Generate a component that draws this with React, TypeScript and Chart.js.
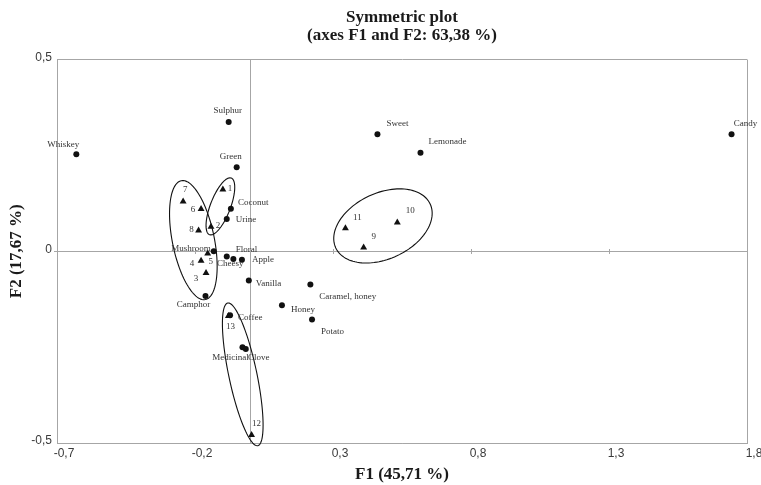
import React, { useEffect, useRef } from 'react';
import { Chart, registerables } from 'chart.js';

Chart.register(...registerables);

// ---- data ----
const chartTitle = ['Symmetric plot', '(axes F1 and F2: 63,38 %)'];
const xAxisTitle = 'F1 (45,71 %)';
const yAxisTitle = 'F2 (17,67 %)';

const xTickValues = [-0.7, -0.2, 0.3, 0.8, 1.3, 1.8];
const yTickValues = [-0.5, 0, 0.5];

const attributeNames = [
  'Whiskey', 'Sulphur', 'Green', 'Sweet', 'Lemonade', 'Candy', 'Coconut', 'Urine',
  'Mushroom', 'Floral', 'Cheesy', 'Apple', 'Vanilla', 'Caramel, honey', 'Camphor',
  'Honey', 'Potato', 'Coffee', 'Medicinal', 'Clove',
];
const attributeF1 = [
  -0.630, -0.078, -0.049, 0.461, 0.617, 1.744, -0.070, -0.085,
  -0.132, -0.085, -0.061, -0.030, -0.005, 0.218, -0.162,
  0.115, 0.224, -0.073, -0.028, -0.016,
];
const attributeF2 = [
  0.253, 0.337, 0.219, 0.305, 0.257, 0.305, 0.111, 0.084,
  0.000, -0.014, -0.020, -0.022, -0.076, -0.087, -0.117,
  -0.141, -0.178, -0.167, -0.250, -0.255,
];

const sampleNames = ['1', '2', '3', '4', '5', '6', '7', '8', '9', '10', '11', '12', '13'];
const sampleF1 = [-0.099, -0.142, -0.160, -0.178, -0.154, -0.178, -0.243, -0.187, 0.411, 0.533, 0.345, 0.005, -0.079];
const sampleF2 = [0.161, 0.064, -0.057, -0.025, -0.006, 0.110, 0.130, 0.054, 0.010, 0.075, 0.060, -0.479, -0.169];

// confidence ellipses (data units): centre and two conjugate semi-axis vectors
const ellipseCenters = [[-0.206, 0.029], [-0.108, 0.117], [0.481, 0.066], [-0.027, -0.321]];
const ellipseAxisU = [[0.0435, -0.155], [0.0394, 0.0738], [0.171, 0.0573], [0.0544, -0.186]];
const ellipseAxisV = [[0.0745, 0.0108], [0.0339, -0.0093], [0.0506, -0.0779], [0.0497, 0.0075]];

// ---- label layout (pixel offsets from the marker) ----
const attributeLabelLayout: [number, number, CanvasTextAlign][] = [
  [-13, -10, 'center'], [-1, -11, 'center'], [-6, -11, 'center'], [20, -11, 'center'],
  [27, -11, 'center'], [14, -11, 'center'], [7, -6, 'left'], [9, 1, 'left'],
  [-3, -3, 'right'], [9, -7, 'left'], [-3, 5, 'center'], [10, 0, 'left'],
  [7, 3, 'left'], [9, 12, 'left'], [-12, 9, 'center'], [9, 4, 'left'],
  [9, 12, 'left'], [8, 2, 'left'], [-12, 11, 'center'], [13, 9, 'center'],
];
const sampleLabelLayout: [number, number][] = [
  [7, -1], [7, -1], [-10, 6], [-9, 3], [3, 8], [-8, 1], [2, -12], [-7, -1],
  [10, -11], [13, -12], [12, -11], [5, -11], [2, 11],
];

const GRAY = '#a6a6a6';
const SERIF = '"Liberation Serif", "Times New Roman", serif';
const SANS = '"Liberation Sans", Arial, sans-serif';

const fmt = (v: number) => (Math.abs(v) < 1e-9 ? '0' : v.toFixed(1).replace('.', ','));

const annotatePlugin = {
  id: 'annotate',
  beforeDatasetsDraw(chart: any) {
    const { ctx, chartArea, scales } = chart;
    const xs = scales.x, ys = scales.y;
    ctx.save();
    ctx.strokeStyle = GRAY;
    ctx.lineWidth = 1;
    const x0 = Math.round(xs.getPixelForValue(0)) + 0.5;
    ctx.beginPath();
    ctx.moveTo(x0, chartArea.top);
    ctx.lineTo(x0, chartArea.bottom);
    ctx.stroke();
    const y0 = Math.round(ys.getPixelForValue(0)) + 0.5;
    ctx.beginPath();
    for (const v of xTickValues.slice(1, -1)) {
      const px = Math.round(xs.getPixelForValue(v)) + 0.5;
      ctx.moveTo(px, y0 - 2.5);
      ctx.lineTo(px, y0 + 2.5);
    }
    ctx.moveTo(chartArea.left - 3, y0);
    ctx.lineTo(chartArea.left, y0);
    ctx.stroke();
    ctx.restore();
  },
  afterDatasetsDraw(chart: any) {
    const { ctx, scales } = chart;
    const xs = scales.x, ys = scales.y;
    ctx.save();
    // ellipses
    ctx.strokeStyle = '#111';
    ctx.lineWidth = 1.1;
    for (let e = 0; e < ellipseCenters.length; e++) {
      const [cx, cy] = ellipseCenters[e];
      const [ux, uy] = ellipseAxisU[e];
      const [vx, vy] = ellipseAxisV[e];
      ctx.beginPath();
      const N = 120;
      for (let i = 0; i <= N; i++) {
        const t = (i / N) * Math.PI * 2;
        const px = xs.getPixelForValue(cx + ux * Math.cos(t) + vx * Math.sin(t));
        const py = ys.getPixelForValue(cy + uy * Math.cos(t) + vy * Math.sin(t));
        if (i === 0) ctx.moveTo(px, py); else ctx.lineTo(px, py);
      }
      ctx.closePath();
      ctx.stroke();
    }
    // labels
    ctx.font = `9px ${SERIF}`;
    ctx.fillStyle = '#333';
    ctx.textBaseline = 'middle';
    attributeNames.forEach((name, i) => {
      const [dx, dy, align] = attributeLabelLayout[i];
      ctx.textAlign = align;
      ctx.fillText(name, xs.getPixelForValue(attributeF1[i]) + dx, ys.getPixelForValue(attributeF2[i]) + dy);
    });
    ctx.textAlign = 'center';
    sampleNames.forEach((name, i) => {
      const [dx, dy] = sampleLabelLayout[i];
      ctx.fillText(name, xs.getPixelForValue(sampleF1[i]) + dx, ys.getPixelForValue(sampleF2[i]) + dy);
    });
    ctx.restore();
  },
};

export default function App() {
  const ref = useRef<HTMLCanvasElement | null>(null);
  useEffect(() => {
    document.body.style.margin = '0';
    const canvas = ref.current;
    if (!canvas) return;
    const isEdge = (v: number, arr: number[]) => v === arr[0] || v === arr[arr.length - 1];
    const titleFont = { family: SERIF, size: 17, weight: 'bold', lineHeight: 18 / 17 };
    const chart = new Chart(canvas, {
      type: 'scatter',
      data: {
        datasets: [
          {
            label: 'Attributes',
            data: attributeF1.map((x, i) => ({ x, y: attributeF2[i] })),
            pointStyle: 'circle',
            pointRadius: 3,
            backgroundColor: '#111',
            borderColor: '#111',
            borderWidth: 0,
          },
          {
            label: 'Samples',
            data: sampleF1.map((x, i) => ({ x, y: sampleF2[i] })),
            pointStyle: 'triangle',
            pointRadius: 4,
            backgroundColor: '#111',
            borderColor: '#111',
            borderWidth: 0,
          },
        ],
      },
      options: {
        responsive: false,
        animation: false,
        devicePixelRatio: 1,
        layout: { padding: { left: 0, right: 14, top: 0, bottom: 0 } },
        plugins: {
          legend: { display: false },
          tooltip: { enabled: false },
          title: {
            display: true,
            text: chartTitle,
            fullSize: false,
            color: '#1a1a1a',
            font: titleFont,
            padding: { top: 9, bottom: 14.5 },
          },
        },
        scales: {
          x: {
            type: 'linear',
            min: xTickValues[0],
            max: xTickValues[xTickValues.length - 1],
            afterBuildTicks: (scale: any) => {
              scale.ticks = xTickValues.map((value) => ({ value }));
            },
            afterFit: (scale: any) => {
              scale.height = 42;
            },
            grid: {
              drawTicks: false,
              color: (c: any) => (c.tick && isEdge(c.tick.value, xTickValues) ? GRAY : 'rgba(0,0,0,0)'),
              lineWidth: 1,
            },
            border: { display: true, color: GRAY, width: 1 },
            ticks: {
              autoSkip: false,
              maxRotation: 0,
              padding: 3,
              labelOffset: 7,
              color: '#3a3a3a',
              font: { family: SANS, size: 12 },
              callback: (v: any) => fmt(Number(v)),
            },
            title: {
              display: true,
              text: xAxisTitle,
              color: '#1a1a1a',
              font: titleFont,
              padding: { top: 0, bottom: 1 },
            },
          },
          y: {
            type: 'linear',
            min: yTickValues[0],
            max: yTickValues[yTickValues.length - 1],
            afterBuildTicks: (scale: any) => {
              scale.ticks = yTickValues.map((value) => ({ value }));
            },
            afterFit: (scale: any) => {
              scale.width = 57;
            },
            grid: {
              drawTicks: false,
              color: (c: any) => (c.tick && (isEdge(c.tick.value, yTickValues) || c.tick.value === 0) ? GRAY : 'rgba(0,0,0,0)'),
              lineWidth: 1,
            },
            border: { display: true, color: GRAY, width: 1 },
            ticks: {
              padding: 5,
              labelOffset: -2,
              color: '#3a3a3a',
              font: { family: SANS, size: 12 },
              callback: (v: any) => fmt(Number(v)),
            },
            title: {
              display: true,
              text: yAxisTitle,
              color: '#1a1a1a',
              font: titleFont,
              padding: { top: 8, bottom: 0 },
            },
          },
        },
      },
      plugins: [annotatePlugin],
    } as any);
    return () => chart.destroy();
  }, []);
  return (
    <div style={{ width: 761, height: 485 }}>
      <canvas ref={ref} width={761} height={485} style={{ display: 'block' }} />
    </div>
  );
}
